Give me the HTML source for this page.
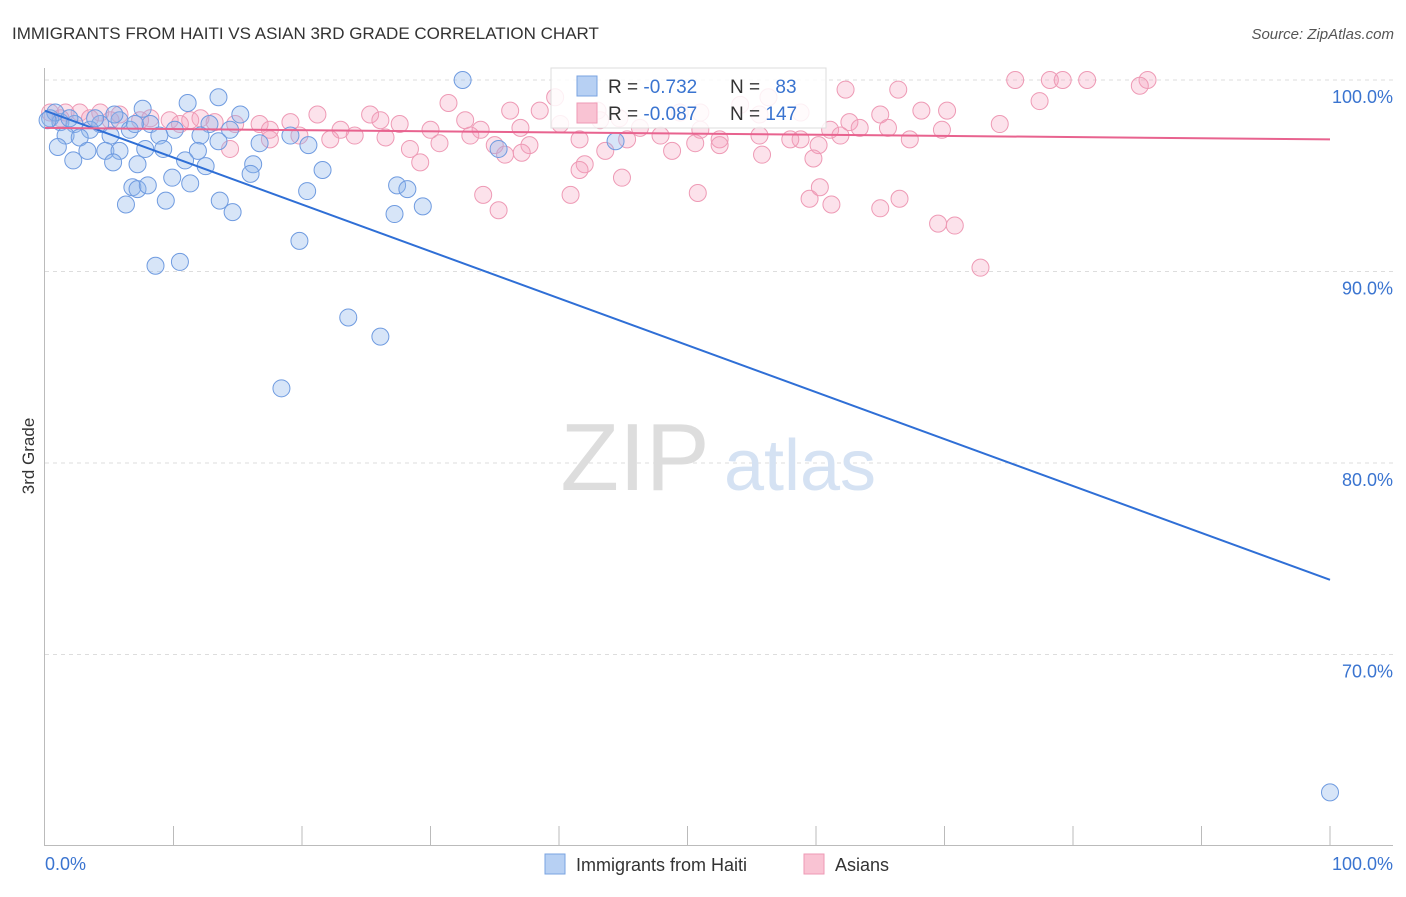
<!DOCTYPE html>
<html><head><meta charset="utf-8"><style>
body{margin:0;background:#fff;font-family:"Liberation Sans",sans-serif;}
svg text{font-family:"Liberation Sans",sans-serif;}
</style></head><body>
<svg width="1406" height="892" viewBox="0 0 1406 892">
<text x="12" y="39" font-size="17" fill="#333">IMMIGRANTS FROM HAITI VS ASIAN 3RD GRADE CORRELATION CHART</text>
<text x="1394" y="39" font-size="15" fill="#555" font-style="italic" text-anchor="end">Source: ZipAtlas.com</text>
<g id="grid"></g>
<g>
<text x="635" y="490" font-size="96" fill="#ddd" font-family="Liberation Serif" text-anchor="middle">ZIP</text>
<text x="800" y="490" font-size="72" fill="#d5e2f3" text-anchor="middle">atlas</text>
</g>
<g id="axes"></g>
<text transform="translate(34,456) rotate(-90)" font-size="17" fill="#333" text-anchor="middle">3rd Grade</text>
<g id="pink"></g>
<g id="blue"></g>
<g id="lines"></g>
<g>
<rect x="551" y="68" width="275" height="60" fill="#fff" fill-opacity="0.85" stroke="#ddd"/>
<rect x="577" y="76" width="20" height="20" fill="#b7d0f3" stroke="#7aa3e0"/>
<rect x="577" y="103" width="20" height="20" fill="#f9c3d3" stroke="#ee9ab5"/>
<text x="608" y="93" font-size="19" fill="#333">R = <tspan fill="#3a74d0">-0.732</tspan></text>
<text x="730" y="93" font-size="19" fill="#333">N = <tspan fill="#3a74d0" dx="10">83</tspan></text>
<text x="608" y="120" font-size="19" fill="#333">R = <tspan fill="#3a74d0">-0.087</tspan></text>
<text x="730" y="120" font-size="19" fill="#333">N = <tspan fill="#3a74d0">147</tspan></text>
</g>
<g>
<rect x="545" y="854" width="20" height="20" fill="#b7d0f3" stroke="#7aa3e0"/>
<text x="576" y="871" font-size="18" fill="#333">Immigrants from Haiti</text>
<rect x="804" y="854" width="20" height="20" fill="#f9c3d3" stroke="#ee9ab5"/>
<text x="835" y="871" font-size="18" fill="#333">Asians</text>
</g>
</svg>
<script>
const blueX=[32.5,13.5,11.1,7.6,15.2,0.4,1.2,2.3,4.3,5.8,8.2,10.1,12.8,14.4,3.5,1.6,2.7,5.1,6.6,8.9,12.1,16.7,19.1,20.5,1.0,3.3,4.7,5.8,7.8,9.2,11.9,13.5,2.2,5.3,7.2,10.9,12.5,16.2,16.0,21.6,9.9,11.3,6.8,7.2,8.0,27.4,28.2,20.4,6.3,9.4,13.6,14.6,27.2,29.4,19.8,8.6,10.5,23.6,26.1,18.4,35.3,44.4,100,0.8,0.2,1.9,3.9,5.4,7.0];
const blueY=[100,99.1,98.8,98.5,98.2,98.0,97.8,97.7,97.7,97.9,97.7,97.4,97.7,97.4,97.4,97.1,97.0,97.1,97.4,97.1,97.1,96.7,97.1,96.6,96.5,96.3,96.3,96.3,96.4,96.4,96.3,96.8,95.8,95.7,95.6,95.8,95.5,95.6,95.1,95.3,94.9,94.6,94.4,94.3,94.5,94.5,94.3,94.2,93.5,93.7,93.7,93.1,93.0,93.4,91.6,90.3,90.5,87.6,86.6,83.9,96.4,96.8,62.8,98.3,97.9,98.0,98.0,98.2,97.7];
const pinkX=[75.5,78.2,79.2,81.1,85.8,85.2,66.4,62.3,77.4,68.2,70.2,65.0,39.7,31.4,36.2,38.5,43.0,49.4,44.7,62.6,74.3,54.1,56.3,58.8,0.4,1.6,2.7,4.3,5.8,8.2,9.7,11.3,13.2,14.8,16.7,19.1,21.2,23.0,25.3,27.6,30.0,32.7,33.9,37.0,40.1,43.2,46.3,47.9,51.0,52.5,55.6,58.8,61.1,63.4,65.6,67.3,69.8,1.2,3.5,7.4,10.5,14.4,17.5,19.8,22.2,24.1,26.5,28.4,30.7,33.1,35.0,37.7,41.6,43.6,45.3,48.8,50.6,52.5,55.8,58.0,60.2,61.9,35.8,37.1,29.2,42.0,41.6,44.9,59.8,34.1,35.3,40.9,50.8,59.5,60.3,61.2,65.0,66.5,69.5,70.8,72.8,51.0,55.6,26.1,17.5,12.1,5.1];
const pinkY=[100,100,100,100,100,99.7,99.5,99.5,98.9,98.4,98.4,98.2,99.1,98.8,98.4,98.4,98.4,98.3,98.0,97.8,97.7,98.7,99.1,98.3,98.3,98.3,98.3,98.3,98.2,98.0,97.9,97.9,97.8,97.7,97.7,97.8,98.2,97.4,98.2,97.7,97.4,97.9,97.4,97.5,97.7,97.9,97.5,97.1,97.4,96.9,97.1,96.9,97.4,97.5,97.5,96.9,97.4,98.0,98.0,97.9,97.7,96.4,96.9,97.1,96.9,97.1,97.0,96.4,96.7,97.1,96.6,96.6,96.9,96.3,96.9,96.3,96.7,96.6,96.1,96.9,96.6,97.1,96.1,96.2,95.7,95.6,95.3,94.9,95.9,94.0,93.2,94.0,94.1,93.8,94.4,93.5,93.3,93.8,92.5,92.4,90.2,98.3,98.2,97.9,97.4,98.0,97.9];
const trendX=[0,100];
const blueTrend=[98.4,73.9];
const pinkTrend=[97.5,96.9];
const yTicks=[100,90,80,70];
const yTickLabels=["100.0%","90.0%","80.0%","70.0%"];
const xTicks=[0,10,20,30,40,50,60,70,80,90,100];

const sx=v=>45+v*12.85;
const sy=v=>80+(100-v)*19.15;
const NS="http://www.w3.org/2000/svg";
function mk(tag,attrs,parent){const e=document.createElementNS(NS,tag);for(const k in attrs)e.setAttribute(k,attrs[k]);parent.appendChild(e);return e;}
const grid=document.getElementById('grid'),axes=document.getElementById('axes');
yTicks.forEach((t,i)=>{
  const l=mk('line',{x1:45,x2:1393,y1:sy(t),y2:sy(t),stroke:'#ddd','stroke-dasharray':'4,4'},grid);
  
  
  const tx=mk('text',{x:1393,y:sy(t)+23,'font-size':18,fill:'#3a74d0','text-anchor':'end'},axes);
  tx.textContent=yTickLabels[i];
  
  
});
const ax=mk('line',{x1:44.5,x2:44.5,y1:68,y2:845,stroke:'#bbb'},axes);


const bx=mk('line',{x1:44,x2:1393,y1:845.5,y2:845.5,stroke:'#bbb'},axes);


xTicks.forEach(t=>{
  if(t===0)return;
  const l=mk('line',{x1:sx(t),x2:sx(t),y1:826,y2:845,stroke:'#bbb'},axes);
  
  
});
const xl0=mk('text',{x:45,y:870,'font-size':18,fill:'#3a74d0'},axes);xl0.textContent='0.0%';


const xl1=mk('text',{x:1393,y:870,'font-size':18,fill:'#3a74d0','text-anchor':'end'},axes);xl1.textContent='100.0%';


const pg=document.getElementById('pink');
pinkX.forEach((x,i)=>{
  const c=mk('circle',{cx:sx(x),cy:sy(pinkY[i]),r:8.5,fill:'rgba(244,160,188,0.3)',stroke:'#ee9ab5','stroke-width':1},pg);
  
  
});
const bg=document.getElementById('blue');
blueX.forEach((x,i)=>{
  const c=mk('circle',{cx:sx(x),cy:sy(blueY[i]),r:8.5,fill:'rgba(140,180,235,0.35)',stroke:'#6f9be0','stroke-width':1},bg);
  
  
});
const lg=document.getElementById('lines');
const bl=mk('line',{x1:sx(trendX[0]),y1:sy(blueTrend[0]),x2:sx(trendX[1]),y2:sy(blueTrend[1]),stroke:'#2f6fd6','stroke-width':2},lg);


const pl=mk('line',{x1:sx(trendX[0]),y1:sy(pinkTrend[0]),x2:sx(trendX[1]),y2:sy(pinkTrend[1]),stroke:'#e8638f','stroke-width':2},lg);


</script>
</body></html>
